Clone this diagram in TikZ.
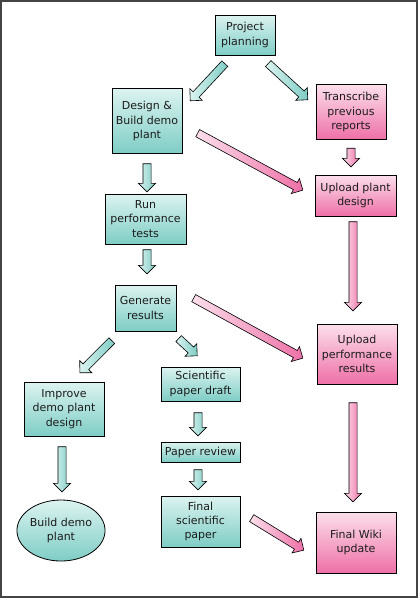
\documentclass[tikz,border=0pt]{standalone}
\usepackage{fontspec}
\setmainfont{DejaVu Sans}
\usetikzlibrary{shapes.geometric,shapes.arrows,calc}
\definecolor{tealTop}{HTML}{DCF3F0}
\definecolor{tealBot}{HTML}{7ECDC5}
\definecolor{pinkTop}{HTML}{FCDFEB}
\definecolor{pinkBot}{HTML}{EE70A7}
\definecolor{ink}{HTML}{1C1C1C}
\definecolor{frameGray}{HTML}{444444}
% block arrow from #2 to #3, style #1
\newcommand{\blk}[3]{%
  \path let \p1=#2, \p2=#3, \n1={atan2(\y2-\y1,\x2-\x1)}, \n2={veclen(\x2-\x1,\y2-\y1)} in
    node[#1,minimum height=\n2,rotate=\n1,anchor=tail] at (\p1) {};}

\begin{document}
\begin{tikzpicture}[x=1pt,y=-1pt,
  box/.style={draw=black,line width=0.8pt,align=center,inner sep=0pt,text=ink,
              font=\fontsize{11}{14.3}\selectfont},
  tbox/.style={box,top color=tealTop,bottom color=tealBot},
  pbox/.style={box,top color=pinkTop,bottom color=pinkBot},
  blkarrow/.style={single arrow,draw=black,line width=0.6pt,inner xsep=0pt,inner ysep=3.75pt,
              single arrow head extend=4.5pt,single arrow head indent=0pt},
  tarrow/.style={blkarrow,left color=tealTop,right color=tealBot},
  parrow/.style={blkarrow,left color=pinkTop,right color=pinkBot}]
\useasboundingbox (0,0) rectangle (420,600);
\draw[line width=2pt,frameGray] (1,1) rectangle (417,597);

\node[tbox,minimum width=60,minimum height=40] (pp) at (245,35) {Project\\planning};
\node[tbox,minimum width=70,minimum height=65] (dbp) at (147,121) {Design \&\\Build demo\\plant};
\node[pbox,minimum width=70,minimum height=55] (trans) at (351,112) {Transcribe\\previous\\reports};
\node[pbox,minimum width=81,minimum height=41] (upd) at (355.5,195.5) {Upload plant\\design};
\node[tbox,minimum width=81,minimum height=50] (run) at (145.5,219) {Run\\performance\\tests};
\node[tbox,minimum width=61,minimum height=46] (gen) at (145.5,308) {Generate\\results};
\node[tbox,minimum width=80,minimum height=54] (impr) at (64,409) {Improve\\demo plant\\design};
\node[tbox,minimum width=79,minimum height=34] (draft) at (200.5,384) {Scientific\\paper draft};
\node[pbox,minimum width=80,minimum height=60] (upr) at (357,354) {Upload\\performance\\results};
\node[tbox,minimum width=79,minimum height=20] (rev) at (200.5,452) {Paper review};
\node[tbox,minimum width=79,minimum height=51] (fsp) at (200.5,521.5) {Final\\scientific\\paper};
\node[pbox,minimum width=80,minimum height=61] (wiki) at (356,542.5) {Final Wiki\\update};
\node[tbox,ellipse,minimum width=80,minimum height=61] (build) at (61,530.5) {Build demo\\plant};

\blk{tarrow}{($(pp.south)+(-20,8)$)}{($(dbp.north east)+(8,12.5)$)}
\blk{tarrow}{($(pp.south)+(23,8)$)}{($(trans.north west)+(-8,15.5)$)}
\blk{parrow}{($(trans.south)+(0,8)$)}{($(upd.north)+(-4.5,-8)$)}
\blk{parrow}{($(dbp.east)+(15,12)$)}{($(upd.west)+(-12,-5.5)$)}
\blk{tarrow}{($(dbp.south)+(0,9.5)$)}{($(run.north)+(1.5,-2)$)}
\blk{tarrow}{($(run.south)+(1.5,5)$)}{($(gen.north)+(1.5,-11)$)}
\blk{tarrow}{($(gen.south)+(-33.5,9)$)}{($(impr.north)+(16,-9)$)}
\blk{tarrow}{($(gen.south east)+(2,7)$)}{($(draft.north)+(-3.5,-11)$)}
\blk{parrow}{($(gen.east)+(17,-10)$)}{($(upr.west)+(-14,4)$)}
\blk{parrow}{($(upd.south)+(-2.5,5)$)}{($(upr.north)+(-4,-13)$)}
\blk{tarrow}{($(impr.south)+(-2,10)$)}{($(build.north)+(1,-8)$)}
\blk{tarrow}{($(draft.south)+(-2.5,11)$)}{($(rev.north)+(-2.5,-6)$)}
\blk{tarrow}{($(rev.south)+(-2.5,7)$)}{($(fsp.north)+(-2.5,-6)$)}
\blk{parrow}{($(upr.south)+(-4,18)$)}{($(wiki.north)+(-3,-10)$)}
\blk{parrow}{($(fsp.east)+(11,-3.5)$)}{($(wiki.west)+(-12,7.5)$)}
\end{tikzpicture}
\end{document}
